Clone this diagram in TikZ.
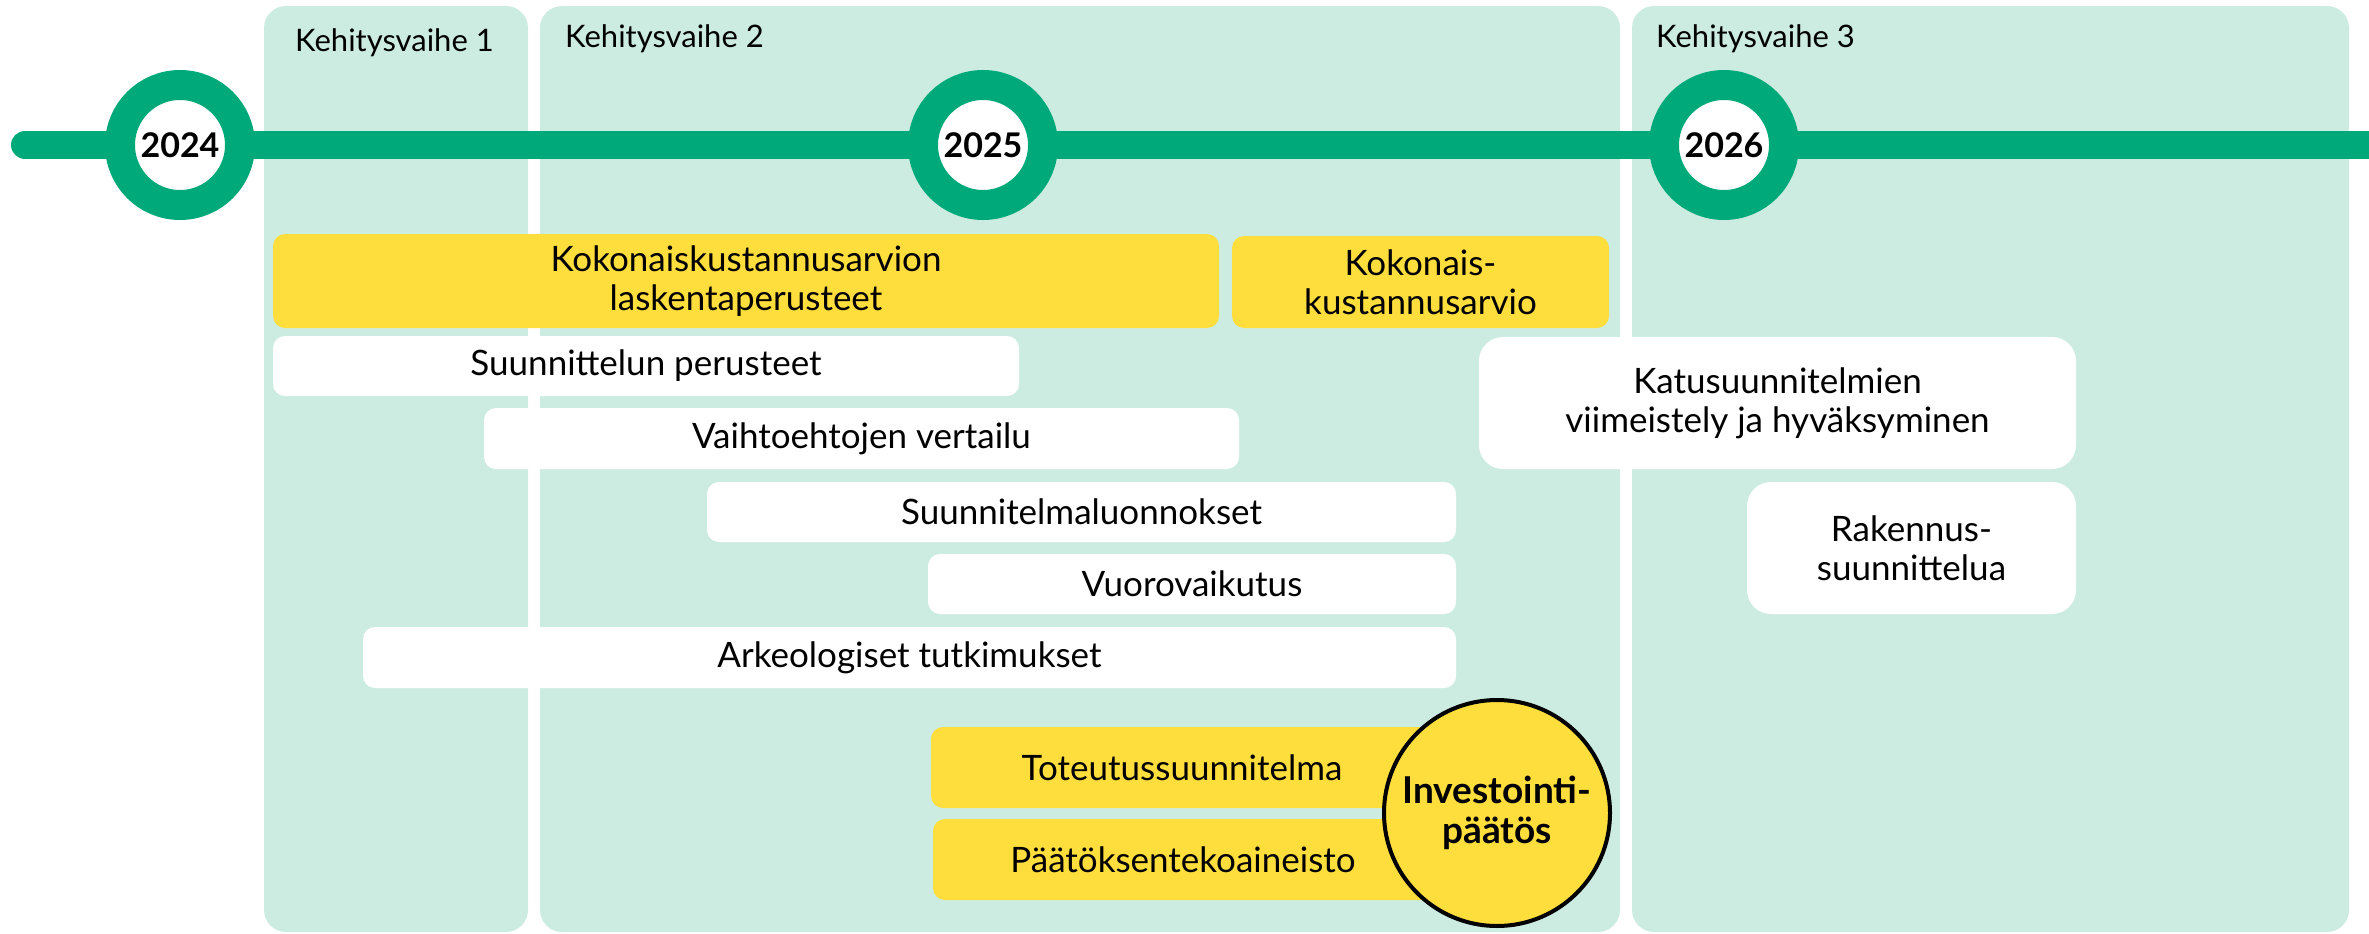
\documentclass[tikz,border=0pt]{standalone}
\usepackage{fontspec}
\setmainfont{Lato}
\definecolor{mint}{HTML}{CCECE2}
\definecolor{tlgreen}{HTML}{00A97A}
\definecolor{ylw}{HTML}{FDDE3C}
\newcommand\boxfont{\fontsize{35}{39}\selectfont}
\newcommand\phasefont{\fontsize{31}{32}\selectfont}
\begin{document}
\begin{tikzpicture}[x=1pt,y=-1pt,
  panel/.style={fill=mint, rounded corners=22pt},
  phaselabel/.style={anchor=base west, inner sep=0, font=\phasefont},
  yearring/.style={circle, draw=tlgreen, line width=30pt, fill=white, minimum size=120pt, inner sep=0, font=\bfseries\fontsize{34}{36}\selectfont},
  taskbox/.style={rectangle, rounded corners=12pt, inner sep=0, align=center, font=\boxfont},
  whitebox/.style={taskbox, fill=white},
  yellowbox/.style={taskbox, fill=ylw},
  bigwhite/.style={whitebox, rounded corners=24pt},
  decision/.style={circle, draw=black, line width=4pt, fill=ylw, minimum size=226pt, inner sep=0, align=center, font=\bfseries\fontsize{37}{40}\selectfont}
]
\useasboundingbox (0,0) rectangle (2369,934);
% panels
\fill[panel] (264,6) rectangle (528,932);
\fill[panel] (540,6) rectangle (1620,932);
\fill[panel] (1632,6) rectangle (2349,932);
\node[phaselabel] (ph1) at (295,52) {Kehitysvaihe 1};
\node[phaselabel] (ph2) at (565,48) {Kehitysvaihe 2};
\node[phaselabel] (ph3) at (1656,48) {Kehitysvaihe 3};
% timeline
\coordinate (tlstart) at (25,145);
\coordinate (tlend) at (2369,145);
\draw[tlgreen, line width=28pt, line cap=round] (tlstart) -- (1000,145);
\draw[tlgreen, line width=28pt] (1000,145) -- (tlend);
\node[yearring] (y2024) at (180,145) {2024};
\node[yearring] (y2025) at (983,145) {2025};
\node[yearring] (y2026) at (1724,145) {2026};
% tasks
\node[yellowbox, minimum width=946pt, minimum height=94pt] (kok) at (746,281) {Kokonaiskustannusarvion\\laskentaperusteet};
\node[yellowbox, minimum width=377pt, minimum height=92pt] (kok2) at (1420.5,282) {Kokonais-\\kustannusarvio};
\node[whitebox, minimum width=746pt, minimum height=60pt] (sp) at (646,366) {Suunnittelun perusteet};
\node[whitebox, minimum width=755pt, minimum height=61pt] (vv) at (861.5,438.5) {Vaihtoehtojen vertailu};
\node[whitebox, minimum width=749pt, minimum height=60pt] (sl) at (1081.5,512) {Suunnitelmaluonnokset};
\node[whitebox, minimum width=528pt, minimum height=60pt] (vu) at (1192,584) {Vuorovaikutus};
\node[whitebox, minimum width=1093pt, minimum height=61pt] (ar) at (909.5,657.5) {Arkeologiset tutkimukset};
\node[yellowbox, minimum width=502pt, minimum height=81pt] (to) at (1182,767.5) {Toteutussuunnitelma};
\node[yellowbox, minimum width=500pt, minimum height=81pt] (pa) at (1183,859.5) {Päätöksentekoaineisto};
\node[bigwhite, minimum width=597pt, minimum height=132pt] (ka) at (1777.5,403) {Katusuunnitelmien\\viimeistely ja hyväksyminen};
\node[bigwhite, minimum width=329pt, minimum height=132pt] (ra) at (1911.5,548) {Rakennus-\\suunnittelua};
\node[decision] (inv) at (1497,813) {Investointi-\\päätös};
\end{tikzpicture}
\end{document}
